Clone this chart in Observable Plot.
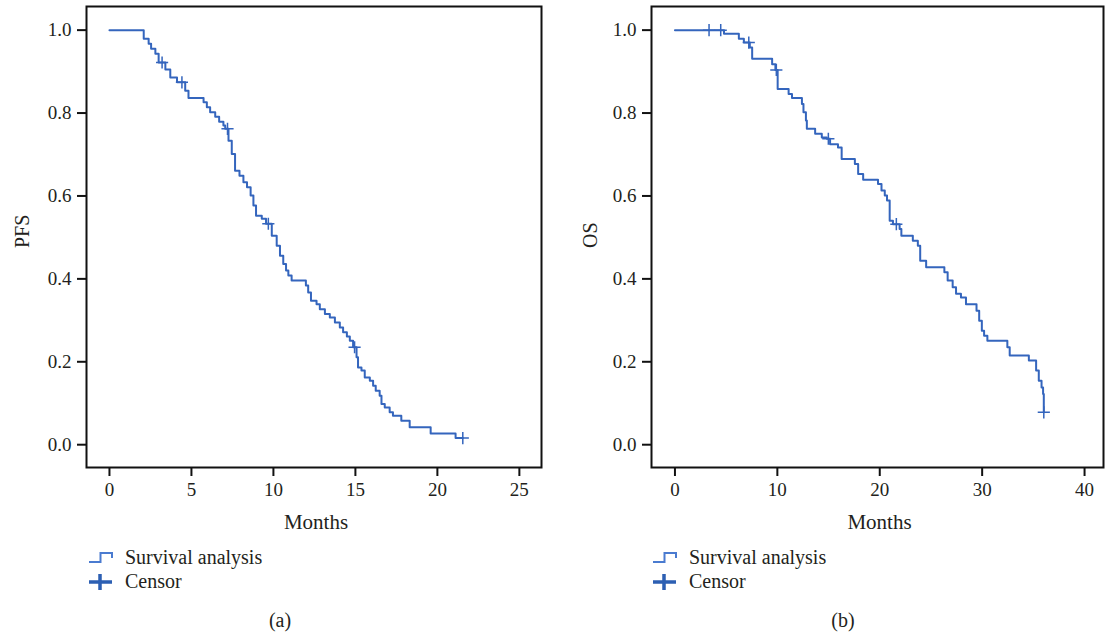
<!DOCTYPE html>
<html>
<head>
<meta charset="utf-8">
<script src="https://cdn.jsdelivr.net/npm/d3@7"></script>
<script src="https://cdn.jsdelivr.net/npm/@observablehq/plot@0.6"></script>
<style>
  html, body { margin: 0; padding: 0; background: #fff; }
  body { width: 1105px; height: 635px; overflow: hidden; position: relative; font-family: "Liberation Serif", "DejaVu Serif", serif; color: #231f20; }
  .panel { position: absolute; top: 0; }
  .leg { position: absolute; font-size: 20px; line-height: 24px; white-space: nowrap; }
  .leg svg { position: absolute; }
  .cap { position: absolute; font-size: 20px; line-height: 24px; transform: translateX(-50%); }
</style>
</head>
<body>
<div id="left" class="panel" style="left:0px"></div>
<div id="right" class="panel" style="left:560px"></div>

<div class="leg" style="left:88px; top:545px;">
  <svg width="26" height="24" style="left:0; top:0"><path d="M1,17 H12.5 V8 H24 V13" fill="none" stroke="#4a7bd0" stroke-width="2"/></svg>
  <span style="position:absolute; left:37px; top:0">Survival analysis</span>
</div>
<div class="leg" style="left:88px; top:569px;">
  <svg width="26" height="24" style="left:0; top:0"><path d="M1,13 H24 M12,5 V21" fill="none" stroke="#2c5fb3" stroke-width="3.5"/></svg>
  <span style="position:absolute; left:37px; top:0">Censor</span>
</div>
<div class="cap" style="left:280px; top:608px;">(a)</div>

<div class="leg" style="left:652px; top:545px;">
  <svg width="26" height="24" style="left:0; top:0"><path d="M1,17 H12.5 V8 H24 V13" fill="none" stroke="#4a7bd0" stroke-width="2"/></svg>
  <span style="position:absolute; left:37px; top:0">Survival analysis</span>
</div>
<div class="leg" style="left:652px; top:569px;">
  <svg width="26" height="24" style="left:0; top:0"><path d="M1,13 H24 M12,5 V21" fill="none" stroke="#2c5fb3" stroke-width="3.5"/></svg>
  <span style="position:absolute; left:37px; top:0">Censor</span>
</div>
<div class="cap" style="left:843px; top:608px;">(b)</div>

<script>
// ---- Data ----
const pfsMonths = [0, 2.09, 2.39, 2.54, 2.80, 3.00, 3.41, 3.71, 4.12, 4.62, 4.82, 5.74, 5.94, 6.14, 6.45, 6.69, 6.95, 7.06, 7.26, 7.46, 7.66, 7.93, 8.17, 8.39, 8.61, 8.78, 8.94, 9.29, 9.55, 9.90, 10.20, 10.40, 10.60, 10.77, 10.91, 11.11, 11.98, 12.12, 12.29, 12.63, 12.83, 13.14, 13.44, 13.75, 14.05, 14.25, 14.48, 14.66, 14.86, 15.07, 15.16, 15.37, 15.57, 15.88, 16.08, 16.24, 16.48, 16.59, 16.79, 17.09, 17.29, 17.80, 18.31, 19.59, 21.11, 21.55];
const pfsSurvival = [1, 0.979, 0.967, 0.955, 0.943, 0.922, 0.905, 0.886, 0.874, 0.854, 0.836, 0.826, 0.814, 0.802, 0.791, 0.779, 0.770, 0.762, 0.733, 0.701, 0.661, 0.649, 0.633, 0.621, 0.601, 0.577, 0.552, 0.545, 0.533, 0.504, 0.480, 0.456, 0.436, 0.420, 0.408, 0.396, 0.384, 0.367, 0.347, 0.339, 0.327, 0.315, 0.307, 0.295, 0.283, 0.271, 0.261, 0.251, 0.235, 0.211, 0.186, 0.179, 0.162, 0.154, 0.142, 0.130, 0.118, 0.098, 0.090, 0.078, 0.070, 0.058, 0.042, 0.027, 0.016, 0.016];
const pfsCensorMonths = [3.21, 4.42, 7.20, 9.69, 14.95, 21.55];
const pfsCensorSurvival = [0.922, 0.874, 0.762, 0.533, 0.235, 0.016];

const osMonths = [0, 4.79, 6.24, 6.73, 7.31, 7.54, 9.49, 9.81, 10.03, 11.10, 11.43, 12.40, 12.55, 12.79, 12.88, 13.69, 14.34, 14.83, 15.15, 15.92, 16.28, 17.57, 17.89, 18.38, 19.83, 20.17, 20.49, 20.71, 20.97, 21.29, 21.94, 22.11, 23.23, 23.72, 23.95, 24.53, 26.31, 26.63, 27.12, 27.45, 27.93, 28.42, 29.45, 29.71, 29.97, 30.19, 30.51, 32.46, 32.69, 34.56, 35.27, 35.53, 35.80, 35.95, 36.02];
const osSurvival = [1, 0.991, 0.979, 0.970, 0.958, 0.931, 0.918, 0.904, 0.858, 0.846, 0.836, 0.822, 0.802, 0.782, 0.762, 0.750, 0.741, 0.738, 0.725, 0.717, 0.689, 0.677, 0.653, 0.639, 0.629, 0.613, 0.601, 0.589, 0.540, 0.532, 0.520, 0.504, 0.492, 0.480, 0.444, 0.428, 0.416, 0.396, 0.380, 0.364, 0.355, 0.339, 0.323, 0.299, 0.275, 0.263, 0.251, 0.235, 0.215, 0.203, 0.179, 0.154, 0.138, 0.122, 0.078];
const osCensorMonths = [3.33, 4.47, 7.21, 9.90, 14.98, 21.62, 36.02];
const osCensorSurvival = [1, 1, 0.970, 0.904, 0.738, 0.532, 0.078];

const pfsTicks = [0, 5, 10, 15, 20, 25];
const osTicks = [0, 10, 20, 30, 40];
const yTicks = [0, 0.2, 0.4, 0.6, 0.8, 1.0];
const xLabel = "Months";
const pfsLabel = "PFS";
const osLabel = "OS";

// ---- Drawing ----
const blue = "#3465bd";
const ink = "#231f20";

function panel({months, surv, cMonths, cSurv, xDomain, xTicks, yLabel, width, marginLeft, marginRight, labelDx}) {
  const curve = months.map((m, i) => ({m, s: surv[i]}));
  const cens = cMonths.map((m, i) => ({m, s: cSurv[i]}));
  return Plot.plot({
    width, height: 545,
    marginLeft, marginRight, marginTop: 6, marginBottom: 78,
    x: {domain: xDomain},
    y: {domain: [-0.055, 1.057]},
    style: {fontFamily: "Liberation Serif, DejaVu Serif, serif", fontSize: "19px", color: ink, background: "#fff", overflow: "visible"},
    marks: [
      Plot.frame({stroke: "#111", strokeWidth: 2}),
      Plot.axisX({ticks: xTicks, tickSize: 9, tickPadding: 6, strokeWidth: 2, stroke: "#111", label: null, tickFormat: d => String(d), fontSize: 19}),
      Plot.axisY({ticks: yTicks, tickSize: 9, tickPadding: 6, strokeWidth: 2, stroke: "#111", label: null, tickFormat: d3.format(".1f"), fontSize: 19}),
      Plot.line(curve, {x: "m", y: "s", curve: "step-after", stroke: blue, strokeWidth: 2}),
      Plot.dot(cens, {x: "m", y: "s", symbol: "plus", r: 4, stroke: blue, strokeWidth: 1.5}),
      Plot.text([xLabel], {text: d => d, frameAnchor: "bottom", dy: 61, dx: 2, fontSize: 21, fill: ink}),
      Plot.text([yLabel], {text: d => d, frameAnchor: "left", dx: labelDx, dy: 11, rotate: -90, fontSize: 20, fill: ink})
    ]
  });
}

document.getElementById("left").append(panel({
  months: pfsMonths, surv: pfsSurvival, cMonths: pfsCensorMonths, cSurv: pfsCensorSurvival,
  xDomain: [-1.4, 26.35], xTicks: pfsTicks, yLabel: pfsLabel,
  width: 560, marginLeft: 86, marginRight: 19, labelDx: -64
}));
document.getElementById("right").append(panel({
  months: osMonths, surv: osSurvival, cMonths: osCensorMonths, cSurv: osCensorSurvival,
  xDomain: [-2.29, 41.85], xTicks: osTicks, yLabel: osLabel,
  width: 545, marginLeft: 91, marginRight: 2, labelDx: -61
}));
</script>
</body>
</html>
